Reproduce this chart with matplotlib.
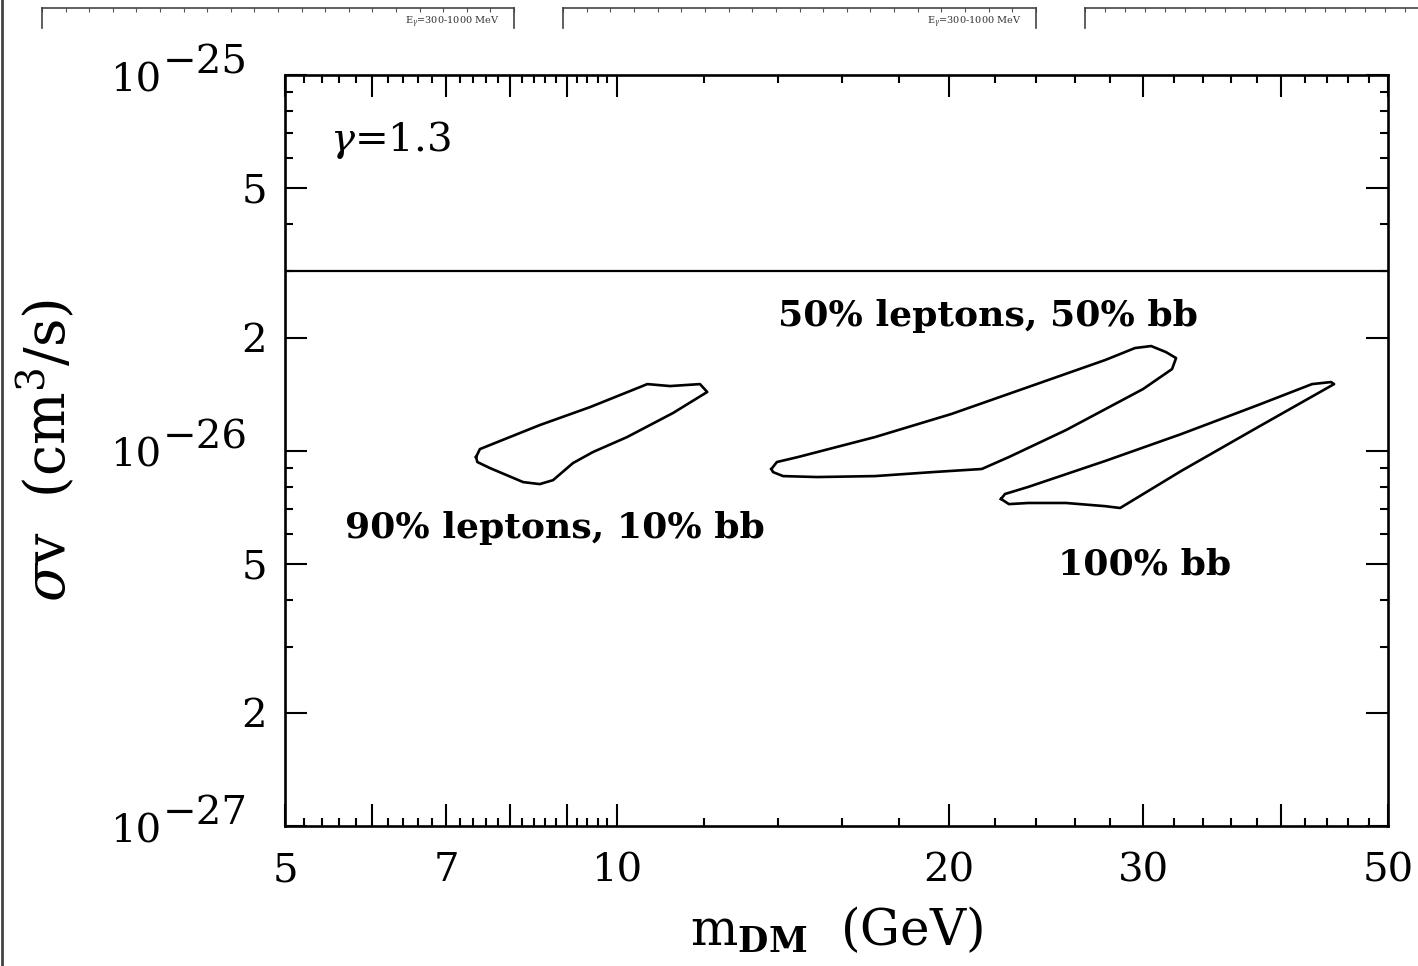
import numpy as np
import matplotlib
matplotlib.use("Agg")
import matplotlib.pyplot as plt
from matplotlib.lines import Line2D
from matplotlib.ticker import NullFormatter

plt.rcParams['font.family'] = ['DejaVu Serif']
plt.rcParams['mathtext.fontset'] = 'dejavuserif'

# thermal relic line
sv_relic = 3e-26

# 90% leptons, 10% bb  (m_DM in GeV, sigma v in 1e-26 cm^3/s)
mix90_m = [7.45, 7.51, 8.51, 9.45, 10.49, 10.65, 11.17, 11.89, 12.07, 11.24,
           10.21, 9.51, 9.12, 8.75, 8.51, 8.22, 7.67, 7.47, 7.45]
mix90_sv = [0.961, 1.009, 1.169, 1.305, 1.476, 1.503, 1.485, 1.503, 1.432, 1.259,
            1.086, 0.991, 0.926, 0.834, 0.814, 0.824, 0.898, 0.932, 0.961]

# 50% leptons, 50% bb
mix50_m = [13.80, 13.96, 14.59, 17.13, 20.09, 23.59, 27.70, 29.48, 30.49, 31.45,
           32.12, 31.85, 29.98, 25.53, 22.66, 21.41, 19.30, 17.13, 15.18, 14.14,
           13.85, 13.80]
mix50_sv = [0.893, 0.932, 0.961, 1.086, 1.251, 1.476, 1.742, 1.875, 1.898, 1.829,
            1.763, 1.648, 1.458, 1.134, 0.961, 0.893, 0.876, 0.855, 0.850, 0.855,
            0.876, 0.893]

# 100% bb
bb_m = [22.29, 22.66, 23.59, 25.53, 27.70, 28.58, 32.46, 38.12, 44.67, 44.39,
        42.66, 38.12, 32.46, 27.70, 23.59, 22.47, 22.29]
bb_sv = [0.743, 0.720, 0.725, 0.725, 0.711, 0.703, 0.882, 1.155, 1.503, 1.522,
         1.503, 1.322, 1.106, 0.938, 0.800, 0.766, 0.743]

x_major = [5, 6, 7, 8, 9, 10, 20, 30, 40, 50]
x_labels = ['5', '', '7', '', '', '10', '20', '30', '', '50']
y_major = [1e-27, 2e-27, 5e-27, 1e-26, 2e-26, 5e-26, 1e-25]
y_labels = ['', '2', '5', '', '2', '5', '']
decades = [1e-27, 1e-26, 1e-25]
decade_exp = ['\u221227', '\u221226', '\u221225']

fig = plt.figure(figsize=(14.18, 9.66), dpi=100)
ax = fig.add_axes([0.2010, 0.1449, 0.7779, 0.7774])

lw = 1.9
ax.axhline(sv_relic, color='black', lw=1.6)
for m, sv in [(mix90_m, mix90_sv), (mix50_m, mix50_sv), (bb_m, bb_sv)]:
    ax.plot(m, np.array(sv) * 1e-26, color='black', lw=lw,
            solid_joinstyle='round')

ax.set_xscale('log')
ax.set_yscale('log')
ax.set_xlim(5, 50)
ax.set_ylim(1e-27, 1e-25)

ax.set_xticks(x_major)
ax.set_xticklabels(x_labels)
x_minor = [v for v in np.arange(5.2, 10, 0.2) if abs(v - round(v)) > 1e-6] + \
          [v for v in range(12, 50, 2) if v % 10 != 0]
ax.set_xticks(x_minor, minor=True)
ax.xaxis.set_minor_formatter(NullFormatter())

ax.set_yticks(y_major)
ax.set_yticklabels(y_labels)
y_minor = [k * d for d in [1e-27, 1e-26] for k in [3, 4, 6, 7, 8, 9]]
ax.set_yticks(y_minor, minor=True)
ax.yaxis.set_minor_formatter(NullFormatter())

ax.tick_params(which='both', direction='in', top=True, right=True, width=1.5)
ax.tick_params(which='major', length=16, labelsize=29)
ax.tick_params(which='minor', length=6)
ax.tick_params(axis='x', which='major', pad=19)
ax.tick_params(axis='y', which='major', pad=13)
for s in ax.spines.values():
    s.set_linewidth(1.9)

for v, e in zip(decades, decade_exp):
    ax.annotate('10', xy=(0, v), xycoords=('axes fraction', 'data'),
                xytext=(-126, -4), textcoords='offset points',
                ha='left', va='center', fontsize=29)
    ax.annotate(e, xy=(0, v), xycoords=('axes fraction', 'data'),
                xytext=(-88, 9), textcoords='offset points',
                ha='left', va='center', fontsize=29)

ax.set_xlabel(r'm$_{\mathbf{DM}}$  (GeV)', fontsize=36)
ax.xaxis.set_label_coords(0.5, -0.105)
ax.set_ylabel(r'$\sigma$v  (cm$^{3}$/s)', fontsize=40)
ax.yaxis.set_label_coords(-0.188, 0.5)

ax.text(0.041, 0.914, r'$\gamma$=1.3', transform=ax.transAxes, fontsize=29,
        va='center', ha='left')
ann = dict(transform=ax.transAxes, fontsize=26, fontweight='bold',
           va='center', ha='left')
ax.text(0.447, 0.679, '50% leptons, 50% bb', **ann)
ax.text(0.054, 0.397, '90% leptons, 10% bb', **ann)
ax.text(0.701, 0.348, '100% bb', **ann)

# cropped neighbouring panels along the top edge
for left, width in [(42, 472), (563, 473), (1085, 400)]:
    tax = fig.add_axes([left / 1418, 1 - 28 / 966, width / 1418, 20 / 966])
    tax.set_xlim(0, 1)
    tax.set_ylim(0, 1)
    tax.spines['bottom'].set_visible(False)
    for s in ['top', 'left', 'right']:
        tax.spines[s].set_linewidth(1.2)
        tax.spines[s].set_color('#444444')
    tax.set_xticks(np.linspace(0, 1, 21))
    tax.set_yticks([])
    tax.tick_params(axis='x', direction='in', top=True, bottom=False,
                    labelbottom=False, length=3, color='#555555')
    if left < 1000:
        tax.text(0.97, 0.3, r'E$_\gamma$=300-1000 MeV', fontsize=7,
                 ha='right', va='center', color='#333333')

fig.add_artist(Line2D([0.0015, 0.0015], [0, 1], transform=fig.transFigure,
                      color='#444444', lw=2))

fig.savefig('out.png', dpi=100)
